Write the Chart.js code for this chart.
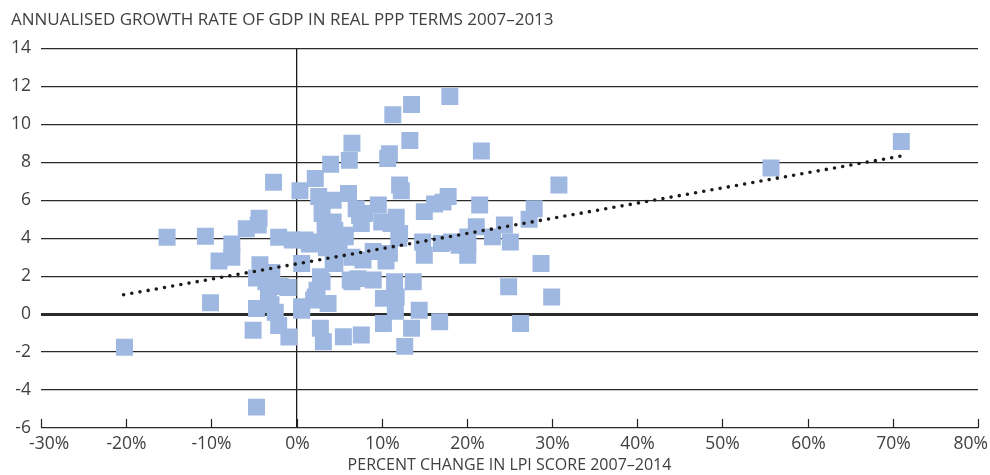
<!DOCTYPE html>
<html>
<head>
<meta charset="utf-8">
<script src="https://cdn.jsdelivr.net/npm/chart.js@4.4.1/dist/chart.umd.min.js"></script>
<style>
  html, body { margin: 0; padding: 0; background: #fff; }
  #wrap { width: 990px; height: 475px; }
</style>
</head>
<body>
<div id="wrap"><canvas id="chart" width="990" height="475"></canvas></div>
<script>
const chartTitle = "ANNUALISED GROWTH RATE OF GDP IN REAL PPP TERMS 2007–2013";
const xAxisTitle = "PERCENT CHANGE IN LPI SCORE 2007–2014";

// one value per country: % change in LPI score and annualised GDP growth
const lpiChange = [
  -20.2, -15.2, -10.7, -10.1, -9.1, -7.6, -7.6, -5.9, -4.4, -4.5, -2.7, -2.1, -4.3, -2.9,
  -4.7, -3.6, -1.9, -3.3, -4.7, -2.5, -5.1, -2.1, -0.9, -4.7, -0.5, -1.0, -3.0,
  0.4, 2.2, 4.0, 6.5, 6.2, 2.6, 4.3, 6.1, 7.0, 7.4, 3.0, 3.35, 4.3, 5.7, 4.5, 5.7, 7.6,
  4.3, 1.0, 2.6, 0.6, 4.3, 4.5, 6.5, 7.8, 9.0, 2.8, 3.0, 6.3, 6.5, 7.2, 9.0, 2.2, 0.6,
  0.6, 3.7, 2.0, 2.4, 2.8, 3.15, 5.5, 7.6, 9.6, 10.0, 1.5, 3.5, 5.0, 8.0,
  11.1, 12.1, 10.9, 10.5, 11.5, 13.7, 10.2, 11.7, 11.6, 14.4, 10.2, 13.5, 16.8, 12.7,
  11.3, 13.5, 18.0, 13.3, 10.7, 10.9, 12.1, 12.3, 15.0, 16.2, 17.8, 17.2, 11.7, 14.8,
  17.0, 18.2, 15.0, 19.1, 12.0,
  20.1, 20.1, 20.1, 21.1, 21.5, 21.7, 23.0, 24.4, 25.1, 24.9, 26.3, 27.3, 27.9, 28.7,
  29.95, 30.8, 55.7, 71.0
];
const gdpGrowth = [
  -1.75, 4.05, 4.1, 0.6, 2.8, 3.7, 3.0, 4.5, 5.05, 4.7, 6.95, 4.05, 2.6, 2.2,
  1.9, 1.7, 1.45, 1.15, 0.3, 0.1, -0.85, -0.6, -1.2, -4.9, 3.9, 1.4, 0.5,
  6.5, 7.15, 7.9, 9.0, 8.1, 6.2, 6.0, 6.35, 5.55, 5.2, 5.3, 4.6, 4.07, 4.07, 4.4, 4.15, 4.77,
  4.85, 3.9, 3.8, 2.67, 2.75, 2.67, 3.0, 2.85, 3.3, 1.97, 1.7, 1.8, 1.7, 1.87, 1.8, 0.9, 0.39,
  0.2, 0.56, 0.74, 1.26, -0.75, -1.45, -1.19, -1.1, 5.75, 4.85, 3.7, 3.5, 3.4, 5.3,
  4.77, 4.25, 3.2, 2.8, 1.7, 1.7, 0.83, 0.9, 0.15, 0.2, -0.5, -0.75, -0.4, -1.7,
  10.5, 11.05, 11.47, 9.15, 8.2, 8.45, 6.8, 6.5, 5.4, 5.8, 6.2, 5.9, 5.1, 3.8,
  3.72, 3.8, 3.1, 3.63, 4.0,
  4.07, 3.63, 3.1, 4.6, 5.75, 8.6, 4.07, 4.7, 3.8, 1.44, -0.5, 5.0, 5.55, 2.67,
  0.9, 6.8, 7.7, 9.1
];

// linear trend line end points
const trendX = [-20.3, 71.0];
const trendY = [1.02, 8.33];

const xMin = -30, xMax = 80, xStep = 10;
const yMin = -6, yMax = 14, yStep = 2;

const points = lpiChange.map((x, i) => ({ x: x, y: gdpGrowth[i] }));
const trend = trendX.map((x, i) => ({ x: x, y: trendY[i] }));

const textColor = "#404040";

// Excel style: tick marks pointing up from the bottom line, labels kept inside the page
const xAxisMarks = {
  id: "xAxisMarks",
  afterDraw(chart) {
    const ctx = chart.ctx;
    const xs = chart.scales.x;
    const bottom = chart.chartArea.bottom;
    ctx.save();
    ctx.strokeStyle = "#222";
    ctx.lineWidth = 1.2;
    ctx.fillStyle = textColor;
    ctx.font = "17.5px 'Open Sans'";
    ctx.textBaseline = "middle";
    ctx.textAlign = "left";
    xs.ticks.forEach(t => {
      const px = Math.round(xs.getPixelForValue(t.value)) + 0.5;
      ctx.beginPath();
      ctx.moveTo(px, bottom);
      ctx.lineTo(px, bottom - 9);
      ctx.stroke();
      const label = t.value + "%";
      const w = ctx.measureText(label).width;
      let left = px - w / 2;
      left = Math.max(29, Math.min(left, 988 - w));
      ctx.fillText(label, left, bottom + 16);
    });
    ctx.restore();
  }
};

new Chart(document.getElementById("chart"), {
  type: "scatter",
  data: {
    datasets: [
      {
        type: "line",
        data: trend,
        borderColor: "#1a1a1a",
        borderWidth: 3.6,
        borderDash: [0, 8.3],
        borderCapStyle: "round",
        pointRadius: 0,
        fill: false,
        order: 0
      },
      {
        data: points,
        pointStyle: "rect",
        pointRadius: 12,
        backgroundColor: "#9fb8e1",
        borderWidth: 0,
        order: 1
      }
    ]
  },
  options: {
    responsive: false,
    animation: false,
    layout: { padding: { left: 11, right: 7, top: 0, bottom: 0 } },
    plugins: {
      legend: { display: false },
      tooltip: { enabled: false },
      title: {
        display: true,
        text: chartTitle,
        align: "start",
        color: textColor,
        font: { family: "'Open Sans'", size: 17, weight: "normal", lineHeight: 1.2 },
        padding: { top: 10, bottom: 18 }
      }
    },
    scales: {
      x: {
        type: "linear",
        min: xMin,
        max: xMax,
        ticks: { stepSize: xStep, display: false },
        grid: {
          drawTicks: false,
          color: ctx => (ctx.tick && ctx.tick.value === 0 ? "#1a1a1a" : "rgba(0,0,0,0)"),
          lineWidth: 1.3
        },
        border: { display: false },
        title: {
          display: true,
          text: xAxisTitle,
          color: textColor,
          font: { family: "'Open Sans'", size: 16, lineHeight: 1.2 },
          padding: { top: 0, bottom: 0 }
        },
        afterFit: scale => { scale.height = 47; }
      },
      y: {
        min: yMin,
        max: yMax,
        ticks: {
          stepSize: yStep,
          color: textColor,
          padding: 10,
          font: { family: "'Open Sans'", size: 17.5 }
        },
        grid: {
          drawTicks: false,
          color: "#2a2a2a",
          lineWidth: ctx => (ctx.tick && ctx.tick.value === 0 ? 3 : 1.2)
        },
        border: { display: false },
        afterFit: scale => { scale.width = 30; }
      }
    }
  },
  plugins: [xAxisMarks]
});
</script>
</body>
</html>
